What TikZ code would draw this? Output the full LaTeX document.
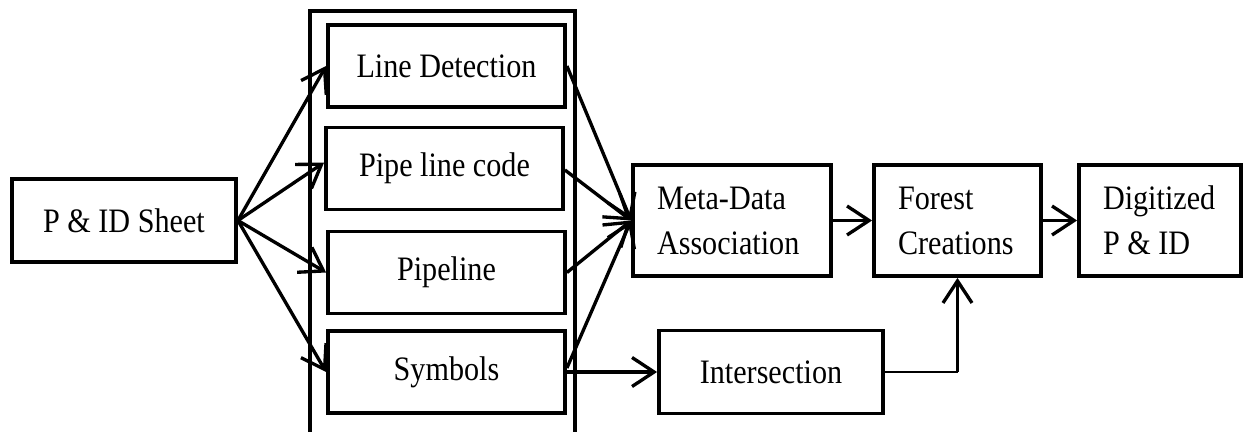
\documentclass[tikz,border=0pt]{standalone}
\usepackage{fontspec}
\setmainfont{Liberation Serif}[FakeStretch=0.88]
\usetikzlibrary{arrows.meta}

\tikzset{
	blk/.style={draw, line width=2.2pt, inner sep=0pt, font=\fontsize{19.5}{25.6}\selectfont},
	stage/.style={blk, minimum width=4.74cm, minimum height=1.64cm},
	tall/.style={blk, minimum height=2.22cm, align=flush left, inner xsep=0.48cm},
	flow/.style={-{Straight Barb[length=0.44cm,width=0.58cm]}, line width=1.9pt},
}

\begin{document}
\begin{tikzpicture}[x=0.02cm, y=-0.02cm]
		%%%%% START %%%%%
		\useasboundingbox (0, 0) rectangle (1245, 432);
		
		\node[draw, line width=1.9pt, minimum width=5.3cm, minimum height=8.5cm] (panel) at (442.5, 223.5) {};
		
		\node[blk, minimum width=4.48cm, minimum height=1.66cm] (sheet) at (124, 220.5) {P \& ID Sheet};
		
		\node[stage] (linedet) at (446.5, 66) {Line Detection};
		\node[stage] (pipecode) at (444.5, 168.5) {Pipe line code\hspace{0.3cm}};
		\node[stage] (pipeline) at (446.5, 272.5) {Pipeline};
		\node[stage] (symbols) at (446.5, 372) {Symbols};
		
		\node[tall, text width=3.0cm] (meta) at (732, 220.5) {Meta-Data\\Association};
		\node[blk, minimum width=4.48cm, minimum height=1.66cm] (inter) at (771, 372) {Intersection};
		\node[tall, text width=2.38cm] (forest) at (957.5, 220.5) {Forest\\Creations};
		\node[tall, text width=2.28cm] (digit) at (1160, 220.5) {Digitized\\P \& ID};
		
		\draw[flow] (sheet.east) -- (linedet.west);
		\draw[flow] (sheet.east) -- ([yshift=0.12cm]pipecode.west);
		\draw[flow] (sheet.east) -- (pipeline.west);
		\draw[flow] (sheet.east) -- (symbols.west);
		
		\draw[flow] (linedet.east) -- (meta.west);
		\draw[flow] ([yshift=-0.03cm]pipecode.east) -- (meta.west);
		\draw[flow] (pipeline.east) -- (meta.west);
		\draw[flow] ([yshift=0.08cm]symbols.east) -- (meta.west);
		
		\draw[flow] (symbols.east) -- (inter.west);
		\draw[flow] (meta.east) -- (forest.west);
		\draw[flow] (forest.east) -- (digit.west);
		
		\coordinate (bend) at (inter.east -| forest.south);
		\draw[line width=0.8pt] (inter.east) -- (bend);
		\draw[flow] (bend) -- (forest.south);
		%%%%% END %%%%%
\end{tikzpicture}
\end{document}
